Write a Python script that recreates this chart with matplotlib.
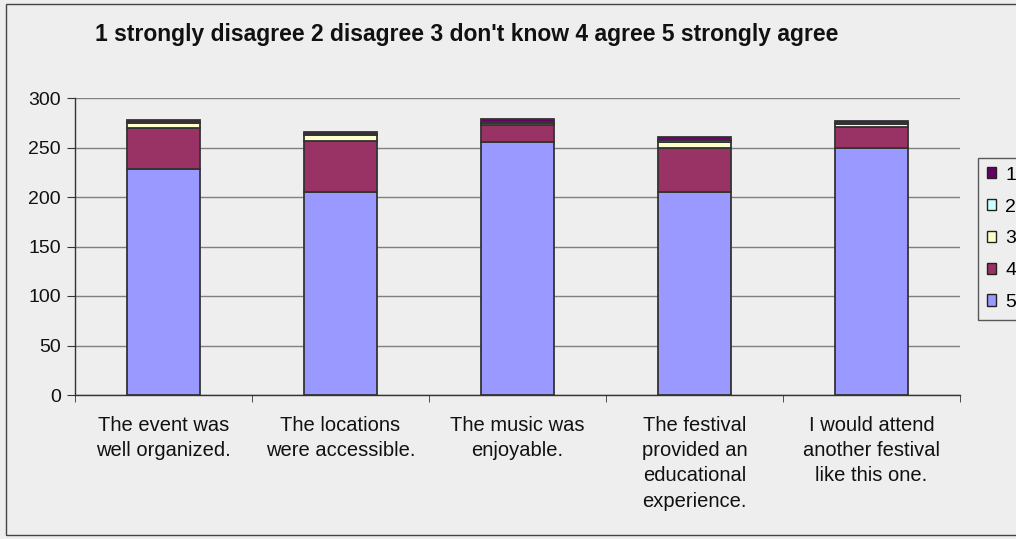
import matplotlib
matplotlib.use("Agg")
import matplotlib.pyplot as plt
from matplotlib.patches import Rectangle, Patch
import numpy as np

plt.rcParams['font.family'] = ['Liberation Sans', 'DejaVu Sans']

categories = ["The event was\nwell organized.",
              "The locations\nwere accessible.",
              "The music was\nenjoyable.",
              "The festival\nprovided an\neducational\nexperience.",
              "I would attend\nanother festival\nlike this one."]
series_names = ["5", "4", "3", "2", "1"]
s5 = [228, 205, 256, 205, 250]
s4 = [42, 52, 17, 44, 21]
s3 = [5, 6, 2, 7, 3]
s2 = [1, 1, 1, 2, 1]
s1 = [2, 2, 3, 3, 2]
yticks = [0, 50, 100, 150, 200, 250, 300]
title = "1 strongly disagree 2 disagree 3 don't know 4 agree 5 strongly agree"

colors = {"5": "#9999FF", "4": "#993366", "3": "#FFFFCC", "2": "#CCFFFF", "1": "#660066"}
bg = "#EEEEEE"

fig = plt.figure(figsize=(10.16, 5.39), dpi=100)
fig.patch.set_facecolor(bg)
W, H = 1016, 539
ax = fig.add_axes([75 / W, 1 - 395 / H, (960 - 75) / W, (395 - 98) / H])
ax.set_facecolor(bg)

x = np.arange(len(categories))
bottom = np.zeros(len(categories))
for name, vals in zip(series_names, [s5, s4, s3, s2, s1]):
    ax.bar(x, vals, width=0.41, bottom=bottom, color=colors[name],
           edgecolor="#333333", linewidth=1.3, zorder=3)
    bottom += np.array(vals)

ax.set_xlim(-0.5, len(categories) - 0.5)
ax.set_ylim(0, 300)
ax.set_yticks(yticks)
ax.set_yticklabels([str(v) for v in yticks], fontsize=14)
ax.yaxis.grid(True, color="#808080", linewidth=1.0, zorder=0)
ax.set_axisbelow(True)

ax.set_xticks(x)
ax.set_xticklabels(categories, fontsize=14.5, linespacing=1.42, color="#111111")
ax.tick_params(axis='x', length=0, pad=15)
ax.set_xticks(np.arange(-0.5, len(categories) + 0.5, 1), minor=True)
ax.tick_params(axis='x', which='minor', length=5, color="#333333")
ax.tick_params(axis='y', length=6, color="#333333", pad=4, labelcolor="#111111")

for s in ["top", "right"]:
    ax.spines[s].set_visible(False)
for s in ["left", "bottom"]:
    ax.spines[s].set_color("#333333")
    ax.spines[s].set_linewidth(1.0)

fig.text(95 / W, 1 - 35 / H, title, fontsize=16.5, fontweight='bold',
         ha='left', va='center', color="#111111")

# outer chart border
fig.patches.append(Rectangle((6 / W, 4 / H), 1.1, (535 - 4) / H,
                             transform=fig.transFigure, fill=False,
                             edgecolor="#444444", linewidth=1.0))

handles = [Patch(facecolor=colors[n], edgecolor="#222222", linewidth=1.0)
           for n in ["1", "2", "3", "4", "5"]]
leg = fig.legend(handles, ["1", "2", "3", "4", "5"], loc='upper left',
                 bbox_to_anchor=(978 / W, 1 - 158 / H), frameon=True,
                 fancybox=False, edgecolor="#333333", facecolor=bg,
                 fontsize=14, handlelength=0.5, handleheight=0.5,
                 labelspacing=0.76, handletextpad=0.45, borderpad=0.45,
                 borderaxespad=0)
leg.get_frame().set_linewidth(1.0)

fig.savefig("out.png", dpi=100, facecolor=bg)
